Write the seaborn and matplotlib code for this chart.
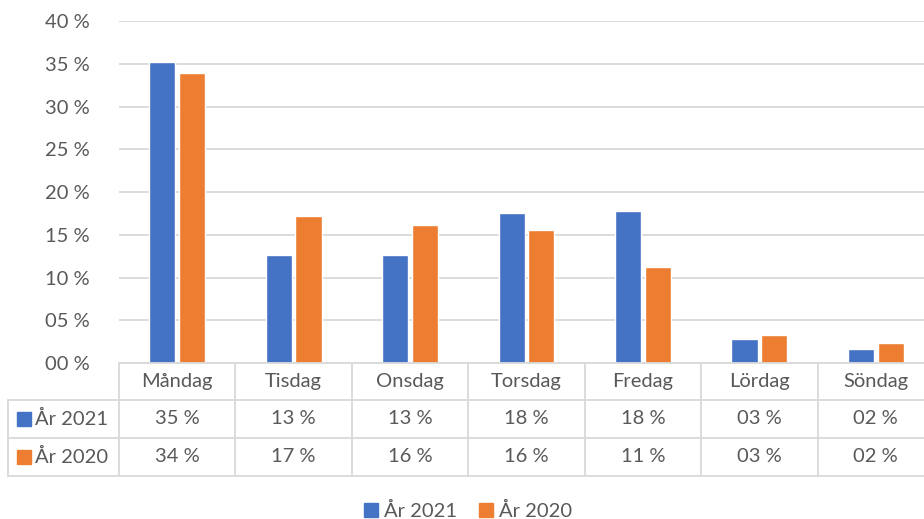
import matplotlib
matplotlib.use('Agg')
import matplotlib.pyplot as plt
import matplotlib.transforms as mtransforms
from matplotlib.patches import Patch, Rectangle
from matplotlib.lines import Line2D
import seaborn as sns
import pandas as pd

# Data (percent of week)
days = ['Måndag', 'Tisdag', 'Onsdag', 'Torsdag', 'Fredag', 'Lördag', 'Söndag']
series_names = ['År 2021', 'År 2020']
values_2021 = [35.2, 12.6, 12.6, 17.6, 17.8, 2.8, 1.6]
values_2020 = [33.9, 17.2, 16.2, 15.6, 11.2, 3.3, 2.3]
y_ticks = [0, 5, 10, 15, 20, 25, 30, 35, 40]

colors = ['#4472C4', '#ED7D31']
text_color = '#595959'
line_color = '#D9D9D9'

df = pd.DataFrame({
    'day': days * 2,
    'year': [series_names[0]] * len(days) + [series_names[1]] * len(days),
    'value': values_2021 + values_2020,
})

sns.set_theme(style='white')
plt.rcParams['font.family'] = ['Lato', 'DejaVu Sans']
fs = 14.5

W, H = 924, 519
fig = plt.figure(figsize=(W / 100, H / 100), dpi=100)

# plot area in pixels (extends slightly past the right edge like the original)
left_px, right_px, bottom_px, top_px = 119, 934, 363, 21.3
ax = fig.add_axes([left_px / W, 1 - bottom_px / H,
                   (right_px - left_px) / W, (bottom_px - top_px) / H])

sns.barplot(data=df, x='day', y='value', hue='year', order=days,
            hue_order=series_names, palette=colors, width=0.51, gap=0.12,
            saturation=1, ax=ax, legend=False)

ax.set_xlim(-0.5, len(days) - 0.5)
ax.set_ylim(0, 40)
ax.set_yticks(y_ticks)
ax.set_yticklabels([f'{v:02d} %' for v in y_ticks], fontsize=fs, color=text_color)
ax.tick_params(axis='y', length=0, pad=21)
ax.set_xticks([])
ax.set_xlabel('')
ax.set_ylabel('')
for s in ax.spines.values():
    s.set_visible(False)
ax.yaxis.grid(True, color=line_color, linewidth=1.3)
ax.set_axisbelow(True)

# data table below the chart
trans = mtransforms.blended_transform_factory(ax.transData, fig.transFigure)
def fy(px):
    return 1 - px / H

row_edges = [363, 400, 438, 476]
lw = 1.3
# horizontal lines
fig.add_artist(Line2D([left_px / W, 1.0], [fy(363), fy(363)], color=line_color, lw=lw))
for yp in row_edges[1:]:
    fig.add_artist(Line2D([8 / W, 1.0], [fy(yp), fy(yp)], color=line_color, lw=lw))
# vertical lines
for k in range(len(days) + 1):
    ax.add_line(Line2D([k - 0.5, k - 0.5], [fy(363), fy(476)], transform=trans,
                       color=line_color, lw=lw, clip_on=False))
fig.add_artist(Line2D([8 / W, 8 / W], [fy(400), fy(476)], color=line_color, lw=lw))

# header and cells
for i, d in enumerate(days):
    ax.text(i, fy(381), d, transform=trans, ha='center', va='center',
            fontsize=fs, color=text_color)
    for r, vals in enumerate([values_2021, values_2020]):
        yc = (row_edges[r + 1] + row_edges[r + 2]) / 2
        ax.text(i, fy(yc), f'{round(vals[i]):02d} %', transform=trans,
                ha='center', va='center', fontsize=fs, color=text_color)

# row labels with colour keys
for r, name in enumerate(series_names):
    yc = (row_edges[r + 1] + row_edges[r + 2]) / 2
    fig.add_artist(Rectangle((17 / W, fy(yc + 7)), 14 / W, 14 / H,
                             color=colors[r], transform=fig.transFigure))
    fig.text(35 / W, fy(yc), name, ha='left', va='center', fontsize=fs,
             color=text_color)

# legend at the bottom
handles = [Patch(color=c, label=n) for c, n in zip(colors, series_names)]
fig.legend(handles=handles, loc='center', bbox_to_anchor=(468 / W, fy(511)),
           ncol=2, frameon=False, fontsize=fs, labelcolor=text_color,
           handlelength=0.7, handleheight=0.7, handletextpad=0.3,
           columnspacing=1.1, borderaxespad=0, borderpad=0)

fig.savefig('out.png', dpi=100)
